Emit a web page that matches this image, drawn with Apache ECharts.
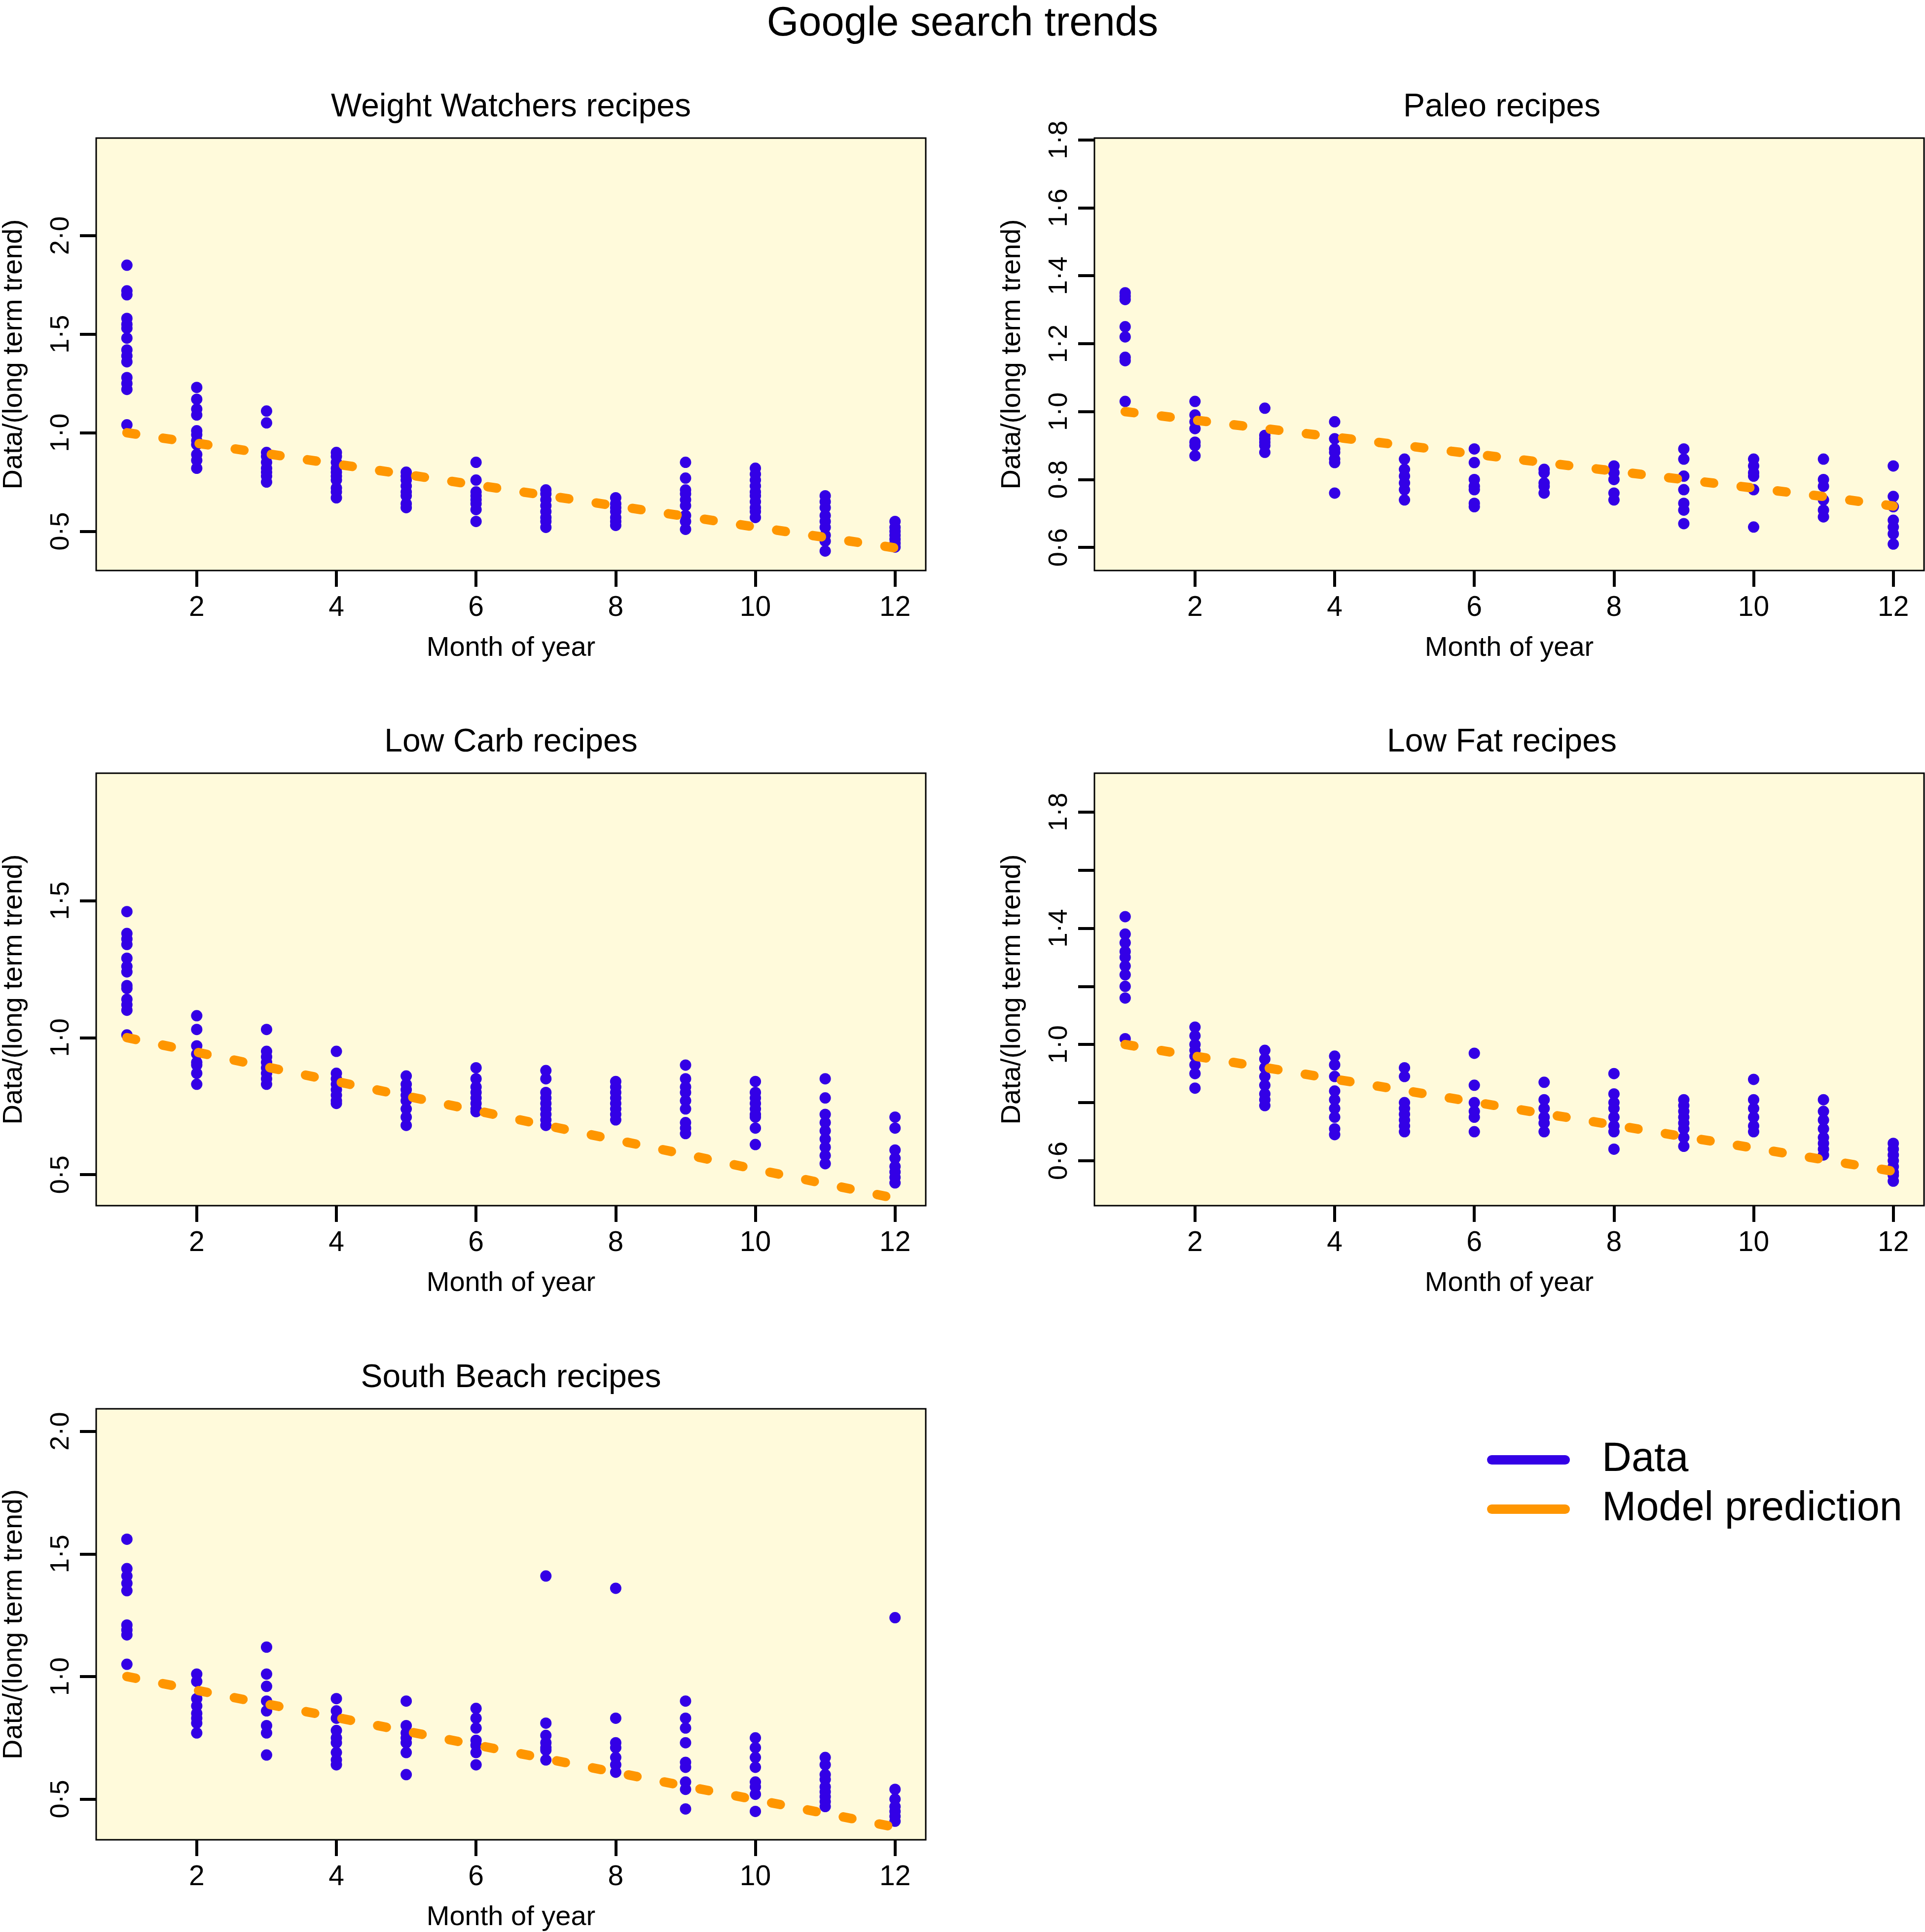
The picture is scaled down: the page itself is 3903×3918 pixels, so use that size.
<!DOCTYPE html>
<html><head><meta charset="utf-8">
<script src="https://cdn.jsdelivr.net/npm/echarts@6/dist/echarts.min.js"></script>
<style>html,body{margin:0;padding:0;background:#fff}#c{width:3903px;height:3918px}</style>
</head><body><div id="c"></div>
<script>
// ---------- data ----------
const months = [1,2,3,4,5,6,7,8,9,10,11,12];
const xTicks = [2,4,6,8,10,12];
const mainTitle = 'Google search trends';
const panelTitles = ['Weight Watchers recipes','Paleo recipes','Low Carb recipes','Low Fat recipes','South Beach recipes'];
const xName = 'Month of year';
const yName = 'Data/(long term trend)';
const legendNames = ['Data','Model prediction'];

const wwValues = [
  [1.85,1.72,1.70,1.58,1.55,1.53,1.48,1.42,1.39,1.36,1.28,1.25,1.22,1.04],
  [1.23,1.17,1.12,1.09,1.01,0.99,0.96,0.94,0.89,0.86,0.82],
  [1.11,1.05,0.90,0.88,0.85,0.82,0.80,0.78,0.75],
  [0.90,0.88,0.85,0.82,0.80,0.78,0.76,0.72,0.70,0.67],
  [0.80,0.78,0.76,0.73,0.70,0.68,0.64,0.62],
  [0.85,0.76,0.70,0.68,0.66,0.64,0.61,0.55],
  [0.71,0.69,0.66,0.63,0.60,0.57,0.55,0.52],
  [0.67,0.64,0.62,0.60,0.57,0.55,0.53],
  [0.85,0.77,0.71,0.69,0.66,0.63,0.58,0.55,0.51],
  [0.82,0.79,0.76,0.73,0.70,0.68,0.65,0.62,0.60,0.57],
  [0.68,0.65,0.62,0.58,0.55,0.52,0.48,0.45,0.40],
  [0.55,0.52,0.50,0.48,0.46,0.44,0.42]
];
const wwModel = [1.00,0.947,0.894,0.841,0.788,0.735,0.682,0.629,0.576,0.522,0.469,0.416];
const wwTicks = [0.5,1.0,1.5,2.0];

const paleoValues = [
  [1.35,1.34,1.33,1.25,1.22,1.16,1.15,1.03],
  [1.03,0.99,0.97,0.95,0.91,0.90,0.87],
  [1.01,0.93,0.92,0.91,0.90,0.88],
  [0.97,0.92,0.89,0.88,0.86,0.85,0.76],
  [0.86,0.83,0.81,0.79,0.77,0.74],
  [0.89,0.85,0.80,0.78,0.77,0.73,0.72],
  [0.83,0.82,0.79,0.78,0.76],
  [0.84,0.82,0.80,0.76,0.74],
  [0.89,0.86,0.81,0.77,0.73,0.71,0.67],
  [0.86,0.84,0.82,0.81,0.77,0.66],
  [0.86,0.80,0.78,0.74,0.71,0.69],
  [0.84,0.75,0.72,0.68,0.66,0.64,0.61]
];
const paleoModel = [1.00,0.975,0.95,0.925,0.90,0.875,0.85,0.825,0.80,0.775,0.75,0.722];
const paleoTicks = [0.6,0.8,1.0,1.2,1.4,1.6,1.8];

const lowCarbValues = [
  [1.46,1.38,1.36,1.34,1.29,1.26,1.24,1.19,1.18,1.14,1.12,1.10,1.01],
  [1.08,1.03,0.97,0.94,0.91,0.90,0.87,0.83],
  [1.03,0.95,0.93,0.91,0.89,0.87,0.85,0.83],
  [0.95,0.87,0.85,0.83,0.81,0.79,0.77,0.76],
  [0.86,0.83,0.81,0.79,0.77,0.74,0.71,0.68],
  [0.89,0.85,0.82,0.80,0.78,0.76,0.74,0.73],
  [0.88,0.85,0.80,0.78,0.76,0.74,0.72,0.70,0.68],
  [0.84,0.82,0.80,0.78,0.76,0.74,0.72,0.70],
  [0.90,0.85,0.82,0.80,0.77,0.74,0.69,0.67,0.65],
  [0.84,0.80,0.78,0.76,0.74,0.72,0.71,0.67,0.61],
  [0.85,0.78,0.72,0.69,0.66,0.63,0.60,0.57,0.54],
  [0.71,0.67,0.59,0.56,0.53,0.51,0.49,0.47]
];
const lowCarbModel = [1.00,0.947,0.893,0.840,0.787,0.734,0.680,0.627,0.574,0.520,0.467,0.414];
const lowCarbTicks = [0.5,1.0,1.5];

const lowFatValues = [
  [1.44,1.38,1.35,1.32,1.30,1.27,1.24,1.20,1.16,1.02],
  [1.06,1.03,1.00,0.98,0.96,0.93,0.90,0.85],
  [0.98,0.95,0.92,0.89,0.86,0.83,0.81,0.79],
  [0.96,0.93,0.89,0.84,0.81,0.78,0.75,0.71,0.69],
  [0.92,0.89,0.80,0.78,0.76,0.74,0.72,0.70],
  [0.97,0.86,0.80,0.77,0.75,0.70],
  [0.87,0.81,0.78,0.75,0.73,0.70],
  [0.90,0.83,0.80,0.78,0.75,0.72,0.70,0.64],
  [0.81,0.79,0.77,0.75,0.73,0.71,0.68,0.65],
  [0.88,0.81,0.78,0.75,0.72,0.70],
  [0.81,0.77,0.74,0.71,0.68,0.66,0.64,0.62],
  [0.66,0.64,0.62,0.60,0.58,0.56,0.55,0.53]
];
const lowFatModel = [1.00,0.960,0.921,0.881,0.842,0.802,0.762,0.723,0.683,0.644,0.604,0.564];
const lowFatTicks = [0.6,0.8,1.0,1.2,1.4,1.6,1.8];
const lowFatLabels = [0.6,1.0,1.4,1.8];

const southBeachValues = [
  [1.56,1.44,1.41,1.38,1.35,1.21,1.19,1.17,1.05],
  [1.01,0.98,0.91,0.88,0.85,0.83,0.81,0.77],
  [1.12,1.01,0.96,0.90,0.86,0.80,0.77,0.68],
  [0.91,0.86,0.83,0.78,0.75,0.73,0.69,0.66,0.64],
  [0.90,0.80,0.77,0.75,0.73,0.69,0.60],
  [0.87,0.83,0.79,0.74,0.72,0.69,0.64],
  [1.41,0.81,0.76,0.73,0.71,0.70,0.66],
  [1.36,0.83,0.73,0.71,0.67,0.64,0.61],
  [0.90,0.83,0.79,0.73,0.65,0.63,0.57,0.54,0.46],
  [0.75,0.71,0.67,0.63,0.57,0.55,0.52,0.45],
  [0.67,0.64,0.60,0.58,0.55,0.53,0.51,0.49,0.47],
  [1.24,0.54,0.50,0.47,0.45,0.43,0.41]
];
const southBeachModel = [1.00,0.944,0.888,0.833,0.777,0.721,0.665,0.609,0.553,0.498,0.442,0.386];
const southBeachTicks = [0.5,1.0,1.5,2.0];

// ---------- layout / style ----------
const FONT = '"Liberation Sans", Arial, Helvetica, sans-serif';
const BLUE = '#3300e6', ORANGE = '#ff9600', BG = '#fffadb';
const GW = 1682, GH = 877;
const panels = [
  {values: wwValues, model: wwModel, ticks: wwTicks, labels: wwTicks, min: 0.301, max: 2.495, left: 195, top: 280, titleX: 1036},
  {values: paleoValues, model: paleoModel, ticks: paleoTicks, labels: paleoTicks, min: 0.532, max: 1.8055, left: 2219, top: 280, titleX: 3045},
  {values: lowCarbValues, model: lowCarbModel, ticks: lowCarbTicks, labels: lowCarbTicks, min: 0.387, max: 1.965, left: 195, top: 1568, titleX: 1036},
  {values: lowFatValues, model: lowFatModel, ticks: lowFatTicks, labels: lowFatLabels, min: 0.4456, max: 1.9336, left: 2219, top: 1568, titleX: 3045},
  {values: southBeachValues, model: southBeachModel, ticks: southBeachTicks, labels: southBeachTicks, min: 0.3343, max: 2.0917, left: 195, top: 2857, titleX: 1036}
];
const fmt = v => Number(v).toFixed(1).replace('.', '\u00B7');

const grids = [], xAxes = [], yAxes = [], series = [];
const titles = [{text: mainTitle, left: 'center', top: 8, padding: 0,
  textStyle: {fontSize: 83, fontWeight: 'normal', color: '#000', fontFamily: FONT}}];

panels.forEach((p, i) => {
  grids.push({left: p.left, top: p.top, width: GW, height: GH, show: true,
    backgroundColor: BG, borderColor: '#000', borderWidth: 3, containLabel: false});
  titles.push({text: panelTitles[i], left: p.titleX, top: p.top - 95, padding: 0,
    textAlign: 'center', textVerticalAlign: 'top',
    textStyle: {fontSize: 66, fontWeight: 'normal', color: '#000', fontFamily: FONT}});
  xAxes.push({gridIndex: i, type: 'value', min: 0.56, max: 12.44,
    name: xName, nameLocation: 'middle', nameGap: 130,
    nameTextStyle: {fontSize: 56, color: '#000', fontFamily: FONT},
    axisLine: {show: false, onZero: false}, splitLine: {show: false},
    axisTick: {show: true, length: 33, customValues: xTicks, lineStyle: {width: 6, color: '#000'}},
    axisLabel: {customValues: xTicks, fontSize: 57, color: '#000', margin: 48, fontFamily: FONT}});
  yAxes.push({gridIndex: i, type: 'value', min: p.min, max: p.max,
    name: yName, nameLocation: 'middle', nameRotate: 90, nameGap: 138,
    nameTextStyle: {fontSize: 56, color: '#000', fontFamily: FONT},
    axisLine: {show: false, onZero: false}, splitLine: {show: false},
    axisTick: {show: true, length: 33, customValues: p.ticks, lineStyle: {width: 6, color: '#000'}},
    axisLabel: {customValues: p.labels, rotate: 90, fontSize: 54, color: '#000', margin: 44,
      fontFamily: FONT, formatter: fmt}});
  const pts = [];
  months.forEach((m, k) => p.values[k].forEach(v => pts.push([m, v])));
  series.push({type: 'scatter', name: legendNames[0], xAxisIndex: i, yAxisIndex: i, data: pts,
    symbol: 'circle', symbolSize: 23, itemStyle: {color: BLUE, opacity: 1},
    emphasis: {disabled: true}, silent: true, z: 2});
  series.push({type: 'line', name: legendNames[1], xAxisIndex: i, yAxisIndex: i,
    data: months.map((m, k) => [m, p.model[k]]),
    symbol: 'none', showSymbol: false, itemStyle: {color: ORANGE},
    lineStyle: {color: ORANGE, width: 19, type: [18, 56], cap: 'round'},
    emphasis: {disabled: true}, silent: true, z: 3});
});

const barIcon = 'path://M9.5,0 H158.5 A9.5,9.5 0 0 1 158.5,19 H9.5 A9.5,9.5 0 0 1 9.5,0 Z';
const option = {
  animation: false,
  backgroundColor: '#fff',
  title: titles,
  grid: grids,
  xAxis: xAxes,
  yAxis: yAxes,
  legend: {
    orient: 'vertical', left: 3015, top: 2919, padding: 0,
    itemWidth: 168, itemHeight: 19, itemGap: 17, selectedMode: false,
    data: [
      {name: legendNames[0], icon: barIcon, itemStyle: {color: BLUE, borderWidth: 0}},
      {name: legendNames[1], icon: barIcon, itemStyle: {color: ORANGE, borderWidth: 0}, lineStyle: {width: 0}}
    ],
    textStyle: {fontSize: 83, color: '#000', fontFamily: FONT, padding: [6, 0, 0, 60]}
  },
  series: series
};
const chart = echarts.init(document.getElementById('c'), null, {renderer: 'canvas'});
chart.setOption(option);
</script></body></html>
